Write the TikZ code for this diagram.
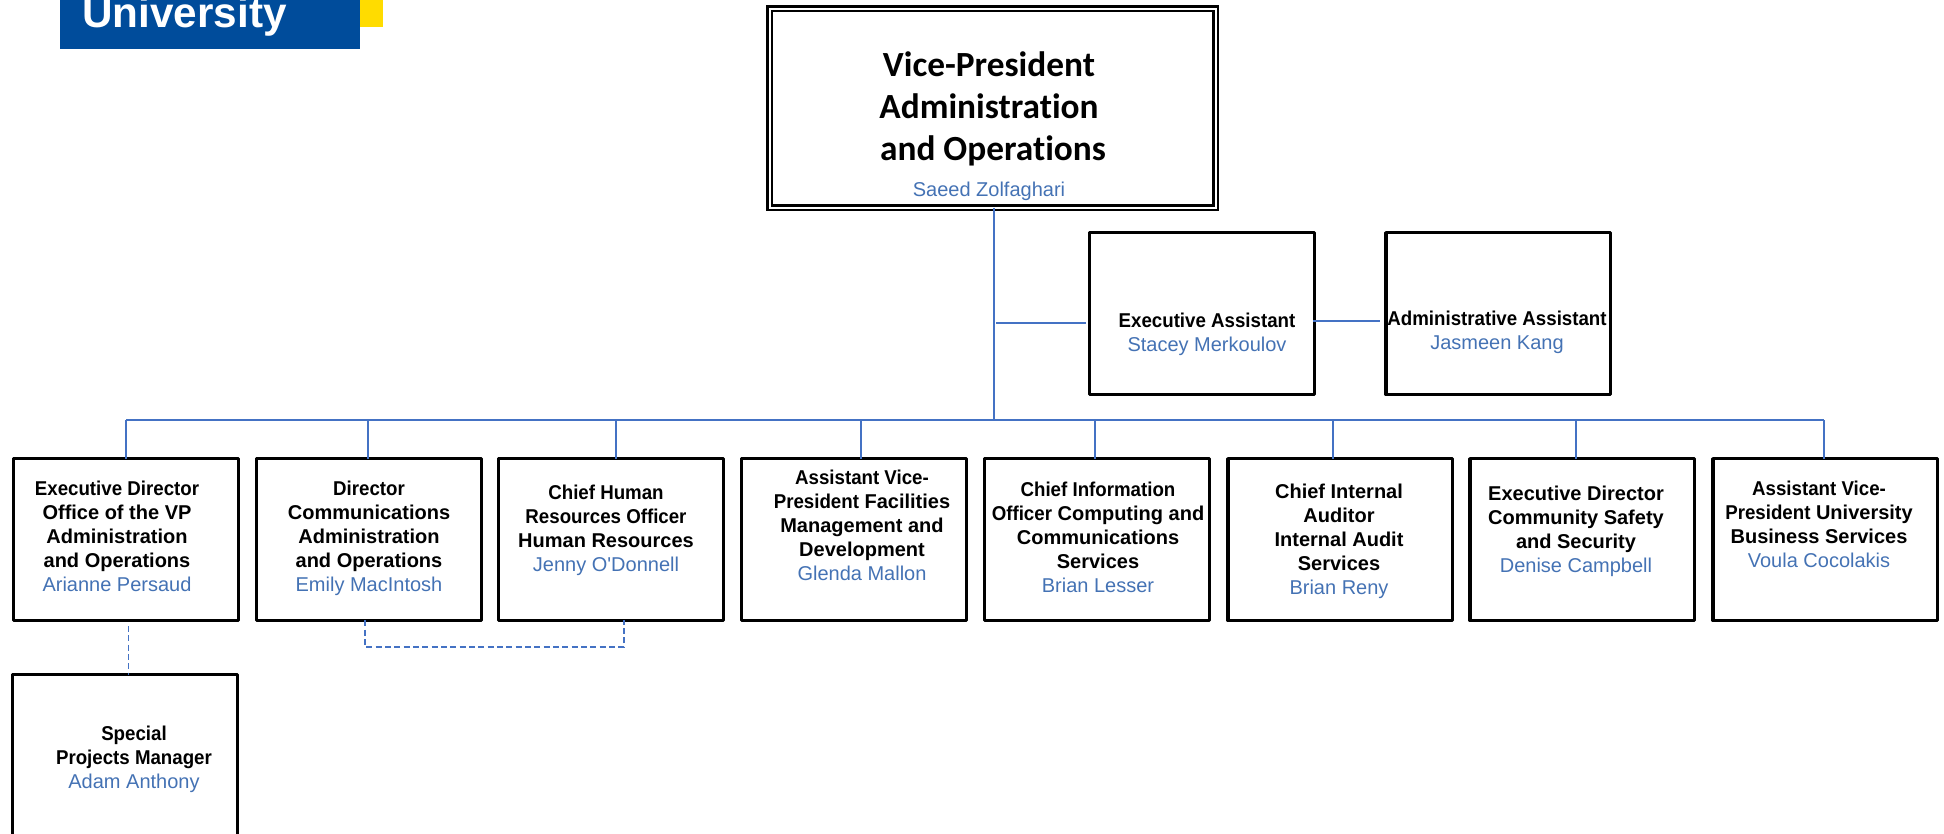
\documentclass[tikz,border=0pt]{standalone}
\usepackage{xcolor}
\usepackage{fontspec}
\setmainfont{Liberation Sans}
\newfontfamily\vpfont[Ligatures=NoCommon]{Carlito}
\newfontfamily\narrowfont[FakeStretch=0.935]{Liberation Sans}
\usepackage{tikz}

\definecolor{linkblue}{HTML}{4472C4}
\definecolor{nameblue}{HTML}{4472B4}
\definecolor{logoblue}{HTML}{004C9B}
\definecolor{logoyellow}{HTML}{FFDC00}

\newcommand{\staffname}[1]{{\color{nameblue}\fontsize{15}{18}\rmfamily\mdseries\selectfont #1}}
\newcommand{\narrowtitle}[1]{{\narrowfont #1}}

\tikzset{
    orgbox/.style={draw, line width=2.6pt, line join=round, inner sep=0pt, outer sep=0pt, anchor=north west, minimum width=168.4pt, minimum height=121.2pt},
    vpbox/.style={draw, line width=1.9pt, double, double distance=1.5pt, line join=miter, inner sep=0pt, outer sep=0pt, anchor=north west, minimum width=334.5pt, minimum height=149.25pt},
    orgtext/.style={inner sep=0pt, align=center, font=\fontsize{15}{18}\bfseries\selectfont},
    link/.style={draw=linkblue, line width=0.85pt},
    dashlink/.style={draw=linkblue, line width=0.85pt, dash pattern=on 4.5pt off 2.5pt}
}

\begin{document}
\begin{tikzpicture}[x=0.75pt,y=0.75pt,yscale=-1,xscale=1]

    \useasboundingbox (0,0) rectangle (1944,833);
    \clip (0,0) rectangle (1944,833);

    % logo
    \fill [logoyellow] (360,-5) rectangle (383,27);
    \fill [logoblue] (60,-5) rectangle (360,49);
    \draw (82,27) node (logotext) [anchor=base west][inner sep=0pt] [text=white, font=\fontsize{31.7}{34}\bfseries\selectfont] {University};

    % boxes
    \draw (769.5,8.5) node (vp) [vpbox] {};
    \draw (1089.75,232.75) node (exec) [orgbox] {};
    \draw (1385.75,232.75) node (admin) [orgbox] {};
    \draw (13.75,458.75) node (dired) [orgbox] {};
    \draw (256.75,458.75) node (dircomm) [orgbox] {};
    \draw (498.75,458.75) node (chro) [orgbox] {};
    \draw (741.75,458.75) node (avpfac) [orgbox] {};
    \draw (984.75,458.75) node (cio) [orgbox] {};
    \draw (1227.75,458.75) node (audit) [orgbox] {};
    \draw (1469.75,458.75) node (safety) [orgbox] {};
    \draw (1712.75,458.75) node (avpbus) [orgbox] {};
    \draw (12.75,674.75) node (special) [orgbox] {};

    % texts
    \draw (989,126.2) node (vptext) [inner sep=0pt, align=center, font=\vpfont\fontsize{26.5}{31.5}\bfseries\selectfont] {Vice-President\\Administration\\\hspace*{6pt}and Operations\\[-4.5pt]\staffname{Saeed Zolfaghari}};
    \draw (1207,334.5) node (exectext) [orgtext] {\narrowtitle{Executive Assistant}\\\staffname{Stacey Merkoulov}};
    \draw (1497,332.5) node (admintext) [orgtext] {\narrowtitle{Administrative Assistant}\\\staffname{Jasmeen Kang}};
    \draw (117,536.5) node (diredtext) [orgtext] {\narrowtitle{Executive Director}\\Office of the VP\\Administration\\and Operations\\\staffname{Arianne Persaud}};
    \draw (369,538.5) node (dircommtext) [orgtext] {\narrowtitle{Director}\\Communications\\Administration\\and Operations\\\staffname{Emily MacIntosh}};
    \draw (606,530) node (chrotext) [orgtext] {\narrowtitle{Chief Human}\\\narrowtitle{Resources Officer}\\Human Resources\\\staffname{Jenny O\textquotesingle Donnell}};
    \draw (862,525) node (avpfactext) [orgtext] {\narrowtitle{Assistant Vice-}\\\narrowtitle{President} Facilities\\Management and\\Development\\\staffname{Glenda Mallon}};
    \draw (1098,537) node (ciotext) [orgtext] {\narrowtitle{Chief Information}\\\narrowtitle{Officer} Computing and\\Communications\\Services\\\staffname{Brian Lesser}};
    \draw (1339,541) node (audittext) [orgtext] {Chief Internal\\Auditor\\Internal Audit\\Services\\\staffname{Brian Reny}};
    \draw (1576,531.5) node (safetytext) [orgtext] {Executive Director\\Community Safety\\and Security\\\staffname{Denise Campbell}};
    \draw (1819,524.5) node (avpbustext) [orgtext] {\narrowtitle{Assistant Vice-}\\\narrowtitle{President} University\\Business Services\\\staffname{Voula Cocolakis}};
    \draw (134,759) node (specialtext) [orgtext] {\narrowtitle{Special}\\\narrowtitle{Projects Manager}\\\staffname{Adam Anthony}};

    % connector points
    \coordinate (trunk) at (994,420);
    \coordinate (drop1) at (126,420);
    \coordinate (drop2) at (368,420);
    \coordinate (drop3) at (616,420);
    \coordinate (drop4) at (861,420);
    \coordinate (drop5) at (1095,420);
    \coordinate (drop6) at (1333,420);
    \coordinate (drop7) at (1576,420);
    \coordinate (drop8) at (1824,420);
    \coordinate (execin) at (996,323);
    \coordinate (adminin) at (1313,321);
    \coordinate (dashsp) at (128.5,626);
    \coordinate (dashl) at (365,647);
    \coordinate (dashr) at (624,647);

    % connectors
    \draw [link] (trunk |- vp.south) -- (trunk);
    \draw [link] (drop1) -- (drop8);
    \draw [link] (drop1) -- (drop1 |- dired.north);
    \draw [link] (drop2) -- (drop2 |- dircomm.north);
    \draw [link] (drop3) -- (drop3 |- chro.north);
    \draw [link] (drop4) -- (drop4 |- avpfac.north);
    \draw [link] (drop5) -- (drop5 |- cio.north);
    \draw [link] (drop6) -- (drop6 |- audit.north);
    \draw [link] (drop7) -- (drop7 |- safety.north);
    \draw [link] (drop8) -- (drop8 |- avpbus.north);
    \draw [link, shorten >=2.5pt] (execin) -- (execin -| exec.west);
    \draw [link, shorten >=4pt] (adminin) -- (adminin -| admin.west);
    \draw [dashlink] (dashsp) -- (dashsp |- special.north);
    \draw [dashlink] (dashl |- dircomm.south) -- (dashl) -- (dashr) -- (dashr |- chro.south);

\end{tikzpicture}
\end{document}
